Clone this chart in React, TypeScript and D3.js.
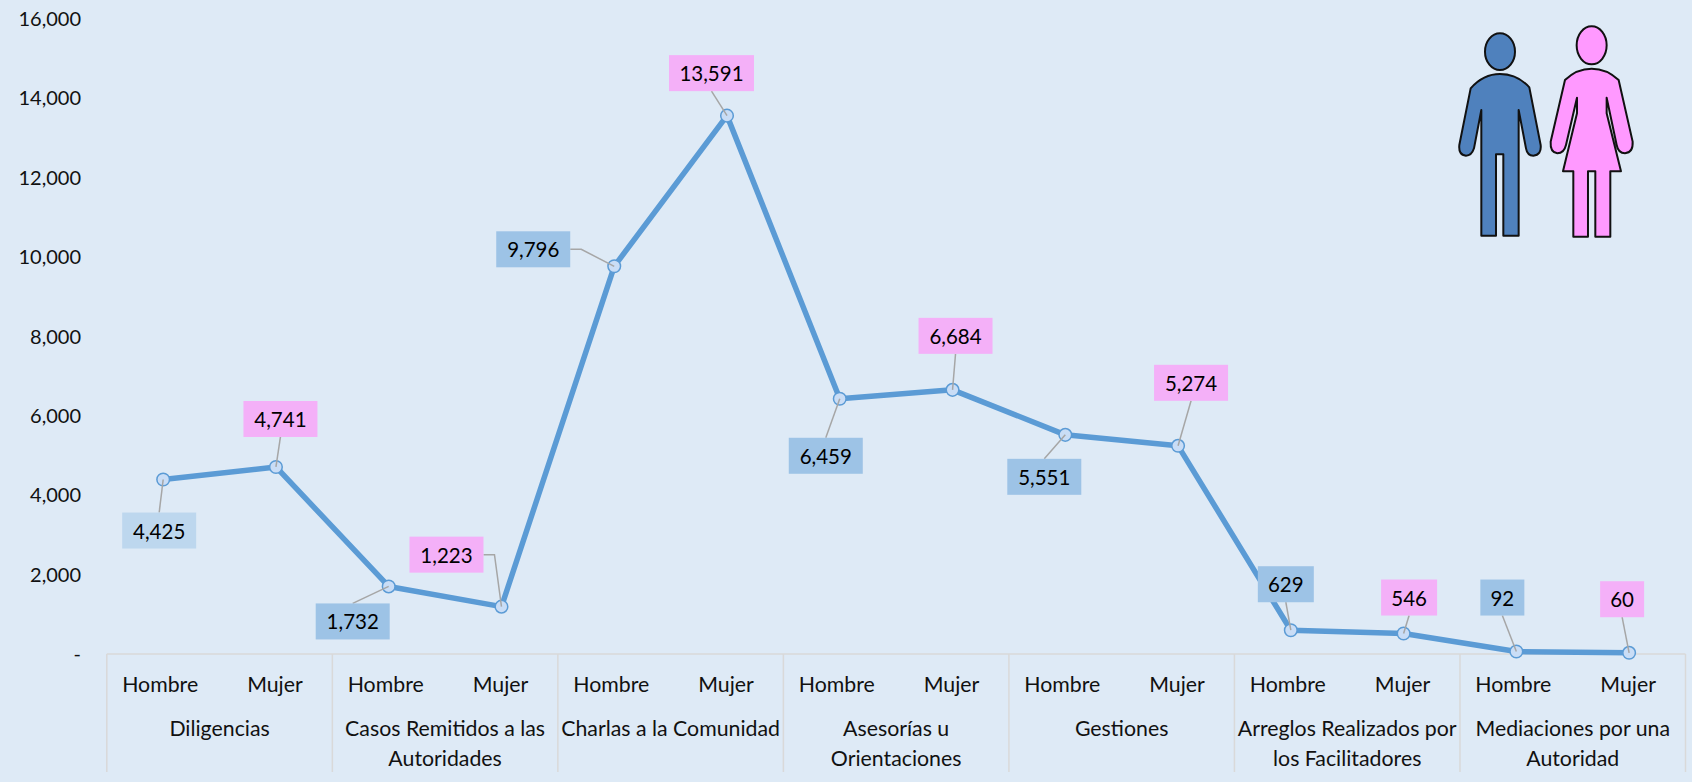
import * as d3 from 'd3';

const CATEGORIES: string[][] = [
  ['Diligencias'],
  ['Casos Remitidos a las', 'Autoridades'],
  ['Charlas a la Comunidad'],
  ['Asesorías u', 'Orientaciones'],
  ['Gestiones'],
  ['Arreglos Realizados por', 'los Facilitadores'],
  ['Mediaciones por una', 'Autoridad'],
];
const GENDERS = ['Hombre', 'Mujer'];
const VALUES = [4425, 4741, 1732, 1223, 9796, 13591, 6459, 6684, 5551, 5274, 629, 546, 92, 60];
const Y_TICKS = [0, 2000, 4000, 6000, 8000, 10000, 12000, 14000, 16000];

// label box centre relative to its point
const LABEL_OFFSETS = [
  { dx: -4, dy: 51 },
  { dx: 4.5, dy: -48 },
  { dx: -36, dy: 35 },
  { dx: -55, dy: -52, elbow: true },
  { dx: -81, dy: -17, elbow: true },
  { dx: -15.5, dy: -42.5 },
  { dx: -14, dy: 57 },
  { dx: 3, dy: -54 },
  { dx: -21, dy: 42 },
  { dx: 13, dy: -63 },
  { dx: -5, dy: -46 },
  { dx: 5.5, dy: -36 },
  { dx: -14, dy: -54 },
  { dx: -7, dy: -53.6 },
];

const W = 1692;
const H = 782;
const FONT = 'Lato, "Open Sans", sans-serif';
const BG = '#DEEAF6';
const LINE = '#5B9BD5';
const RULE = '#D9D9D9';
const LEADER = '#A6A6A6';
const PINK = '#F4B0F8';
const BLUE = '#9DC3E6';
const BLUE_LIGHT = '#BDD7EE';

const AXIS_LEFT = 106.8;
const AXIS_RIGHT = 1685.5;
const AXIS_Y = 654;
const AXIS_BOTTOM = 772;
const GENDER_SHIFT = [-3, -1];

function leaderPath(px: number, py: number, bx: number, by: number, bw: number, bh: number, elbow?: boolean) {
  if (elbow) {
    const edge = bx + bw / 2;
    return `M${edge},${by} H${edge + 11} L${px},${py}`;
  }
  const edgeY = by < py ? by + bh / 2 : by - bh / 2;
  return `M${bx},${edgeY} L${px},${py}`;
}

export default function App() {
  const y = d3.scaleLinear().domain([0, 16000]).range([655.2, 20]);
  const x = d3.scaleBand<number>()
    .domain(VALUES.map((_, i) => i))
    .range([AXIS_LEFT, AXIS_RIGHT]);
  const cx = (i: number) => (x(i) ?? 0) + x.bandwidth() / 2;
  const catW = x.bandwidth() * 2;
  const line = d3.line<number>().x((_, i) => cx(i)).y(d => y(d));
  const fmt = d3.format(',');
  const boxH = 36;

  return (
    <svg width={W} height={H} style={{ position: 'absolute', left: 0, top: 0 }} fontFamily={FONT} fontSize={20} fill="#111">
      <rect width={W} height={H} fill={BG} />

      {/* Y axis labels */}
      {Y_TICKS.map(t => (
        <text key={t} x={81} y={y(t) - 2} textAnchor="end" dominantBaseline="central">
          {t === 0 ? '-' : fmt(t)}
        </text>
      ))}

      {/* Category axis */}
      <line x1={AXIS_LEFT} x2={AXIS_RIGHT} y1={AXIS_Y} y2={AXIS_Y} stroke={RULE} strokeWidth={1.5} />
      {d3.range(CATEGORIES.length + 1).map(i => (
        <line
          key={i}
          x1={AXIS_LEFT + i * catW} x2={AXIS_LEFT + i * catW}
          y1={AXIS_Y} y2={AXIS_BOTTOM}
          stroke={RULE} strokeWidth={1.5}
        />
      ))}
      {VALUES.map((_, i) => (
        <text key={i} x={cx(i) + GENDER_SHIFT[i % 2]} y={684} textAnchor="middle" dominantBaseline="central" fontSize={21.3}>
          {GENDERS[i % 2]}
        </text>
      ))}
      {CATEGORIES.map((lines, i) => (
        <text key={i} textAnchor="middle" fontSize={21.3}>
          {lines.map((l, j) => (
            <tspan key={j} x={AXIS_LEFT + (i + 0.5) * catW} y={736 + j * 30}>{l}</tspan>
          ))}
        </text>
      ))}

      {/* Series */}
      <path d={line(VALUES) ?? ''} fill="none" stroke={LINE} strokeWidth={5.5} strokeLinejoin="round" />
      {VALUES.map((v, i) => (
        <circle key={i} cx={cx(i)} cy={y(v)} r={6.3} fill="#C9DDF6" stroke={LINE} strokeWidth={1.5} />
      ))}

      {/* Data labels */}
      {VALUES.map((v, i) => {
        const { dx, dy, elbow } = LABEL_OFFSETS[i];
        const label = fmt(v);
        const boxW = label.length === 2 ? 44 : label.length === 3 ? 56 : label.length === 5 ? 74 : 85;
        const bx = cx(i) + dx;
        const by = y(v) + dy;
        const fill = i === 0 ? BLUE_LIGHT : i % 2 === 0 ? BLUE : PINK;
        return (
          <g key={i}>
            <path d={leaderPath(cx(i), y(v), bx, by, boxW, boxH, elbow)} fill="none" stroke={LEADER} strokeWidth={1.5} />
            <rect x={bx - boxW / 2} y={by - boxH / 2} width={boxW} height={boxH} fill={fill} />
            <text x={bx} y={by} textAnchor="middle" dominantBaseline="central" fill="#000" fontSize={20.5}>{label}</text>
          </g>
        );
      })}

      {/* Man and woman icons */}
      <g transform="translate(1430,10) scale(0.3333)" stroke="#111" strokeWidth={6} strokeLinejoin="round">
        <ellipse cx={210} cy={125} rx={45} ry={55} fill="#4F81BD" />
        <path
          fill="#4F81BD"
          d="M122 235 Q160 192 210 192 Q262 192 298 232 L332 405 Q335 435 310 437 Q292 437 288 415 L266 300 L266 677 L220 677 L220 433 L198 433 L198 677 L154 677 L154 300 L132 415 Q125 437 108 437 Q85 435 88 405 Z"
        />
        <ellipse cx={485} cy={106} rx={45} ry={57} fill="#FF99FF" />
        <path
          fill="#FF99FF"
          d="M405 210 Q440 176 485 176 Q530 176 566 210 L608 395 Q610 428 585 430 Q565 430 560 405 L530 263 L530 310 L573 484 L541 484 L541 680 L496 680 L496 484 L474 484 L474 680 L430 680 L430 484 L399 484 L441 310 L441 263 L408 405 Q402 430 382 430 Q360 428 362 395 Z"
        />
      </g>
    </svg>
  );
}
